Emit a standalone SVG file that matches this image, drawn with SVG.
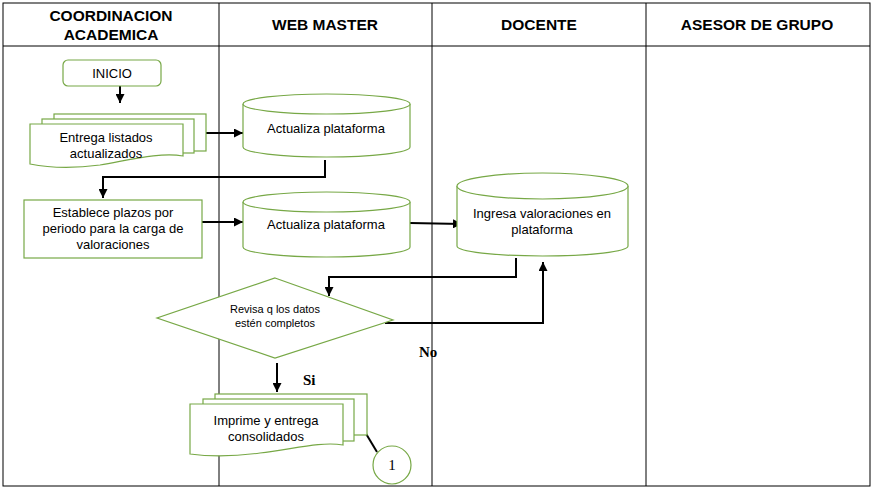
<svg xmlns="http://www.w3.org/2000/svg" width="875" height="493" viewBox="0 0 875 493">
<defs>
<style>
.grid{stroke:#000;stroke-width:1;fill:none}
.hdr{font-family:"Liberation Sans",Arial,sans-serif;font-weight:bold;font-size:15.5px;fill:#000;text-anchor:middle}
.shape{fill:#fff;stroke:#77a846;stroke-width:1.2}
.t{font-family:"Liberation Sans",Arial,sans-serif;font-size:13px;fill:#000;text-anchor:middle}
.ts{font-family:"Liberation Sans",Arial,sans-serif;font-size:11px;fill:#000;text-anchor:middle}
.lbl{font-family:"Liberation Serif","Times New Roman",serif;font-weight:bold;font-size:15px;fill:#000}
.num{font-family:"Liberation Serif","Times New Roman",serif;font-size:15px;fill:#000;text-anchor:middle}
.c{stroke:#000;stroke-width:2;fill:none}
.ca{stroke:#000;stroke-width:2;fill:none;marker-end:url(#ah)}
</style>
<marker id="ah" viewBox="0 0 10 10" refX="10" refY="5" markerWidth="9" markerHeight="9" markerUnits="userSpaceOnUse" orient="auto">
<path d="M0,0 L10,5 L0,10 z" fill="#000"/>
</marker>
</defs>
<rect x="0" y="0" width="875" height="493" fill="#fff"/>
<g id="table">
<rect class="grid" x="3" y="3" width="867" height="483"/>
<line class="grid" x1="3" y1="46" x2="870" y2="46"/>
<line class="grid" x1="219" y1="3" x2="219" y2="486"/>
<line class="grid" x1="432" y1="3" x2="432" y2="486"/>
<line class="grid" x1="646" y1="3" x2="646" y2="486"/>
<text class="hdr" x="111" y="21">COORDINACION</text>
<text class="hdr" x="111" y="40">ACADEMICA</text>
<text class="hdr" x="325" y="30">WEB MASTER</text>
<text class="hdr" x="539" y="30">DOCENTE</text>
<text class="hdr" x="757" y="30">ASESOR DE GRUPO</text>
</g>
<g id="connectors">
<line class="ca" x1="120" y1="86" x2="120" y2="103"/>
<line class="ca" x1="203" y1="133" x2="243" y2="133"/>
<polyline class="c" points="325,160 325,177 103,177"/>
<line class="ca" x1="103" y1="176" x2="103" y2="198"/>
<line class="ca" x1="198" y1="222" x2="243" y2="222"/>
<line class="ca" x1="410" y1="223" x2="462" y2="224"/>
<polyline class="ca" points="516,258 516,277 329,277 329,296"/>
<polyline class="ca" points="385,323 543,323 543,262"/>
<line class="ca" x1="277" y1="363" x2="277" y2="392"/>
<line class="c" stroke-width="1.5" x1="362" y1="427" x2="377" y2="452"/>
</g>
<g id="inicio">
<rect class="shape" x="63" y="60" width="98" height="26" rx="5"/>
<text class="t" x="112" y="78">INICIO</text>
</g>
<g id="entrega">
<rect class="shape" x="54" y="114" width="152" height="37"/>
<rect class="shape" x="42" y="119" width="152" height="34"/>
<path class="shape" d="M30,124 H183 V156 C160,152 130,160 100,165 C70,169 45,167 30,164 Z"/>
<text class="t" x="106" y="142">Entrega listados</text>
<text class="t" x="106" y="158">actualizados</text>
</g>
<g id="actualiza1">
<path class="shape" d="M243,104 V147 A83.5,10 0 0 0 410,147 V104"/>
<ellipse class="shape" cx="326.5" cy="104" rx="83.5" ry="10"/>
<text class="t" x="326" y="133">Actualiza plataforma</text>
</g>
<g id="establece">
<rect class="shape" x="24" y="200" width="178" height="58"/>
<text class="t" x="113" y="217">Establece plazos por</text>
<text class="t" x="113" y="233">periodo para la carga de</text>
<text class="t" x="113" y="249">valoraciones</text>
</g>
<g id="actualiza2">
<path class="shape" d="M243,202 V247 A83.5,10 0 0 0 410,247 V202"/>
<ellipse class="shape" cx="326.5" cy="202" rx="83.5" ry="10"/>
<text class="t" x="326" y="229">Actualiza plataforma</text>
</g>
<g id="ingresa">
<path class="shape" d="M457,186 V246 A85.5,10 0 0 0 628,246 V186"/>
<ellipse class="shape" cx="542.5" cy="186" rx="85.5" ry="13"/>
<text class="t" x="542" y="218">Ingresa valoraciones en</text>
<text class="t" x="542" y="234">plataforma</text>
</g>
<g id="revisa">
<polygon class="shape" points="275,278 393,320 275,358 157,318"/>
<text class="ts" x="275" y="313">Revisa q los datos</text>
<text class="ts" x="275" y="327">estén completos</text>
</g>
<g id="labels">
<text class="lbl" x="419" y="357">No</text>
<text class="lbl" x="303" y="385">Si</text>
</g>
<g id="imprime">
<rect class="shape" x="215" y="394" width="152" height="41"/>
<rect class="shape" x="203" y="399" width="151" height="42"/>
<path class="shape" d="M190,404 H343 V445 C320,441 290,450 260,453 C230,457 205,456 190,454 Z"/>
<text class="t" x="266" y="425">Imprime y entrega</text>
<text class="t" x="266" y="441">consolidados</text>
</g>
<g id="conector1">
<circle class="shape" cx="392" cy="465" r="19"/>
<text class="num" x="392" y="470">1</text>
</g>
</svg>
